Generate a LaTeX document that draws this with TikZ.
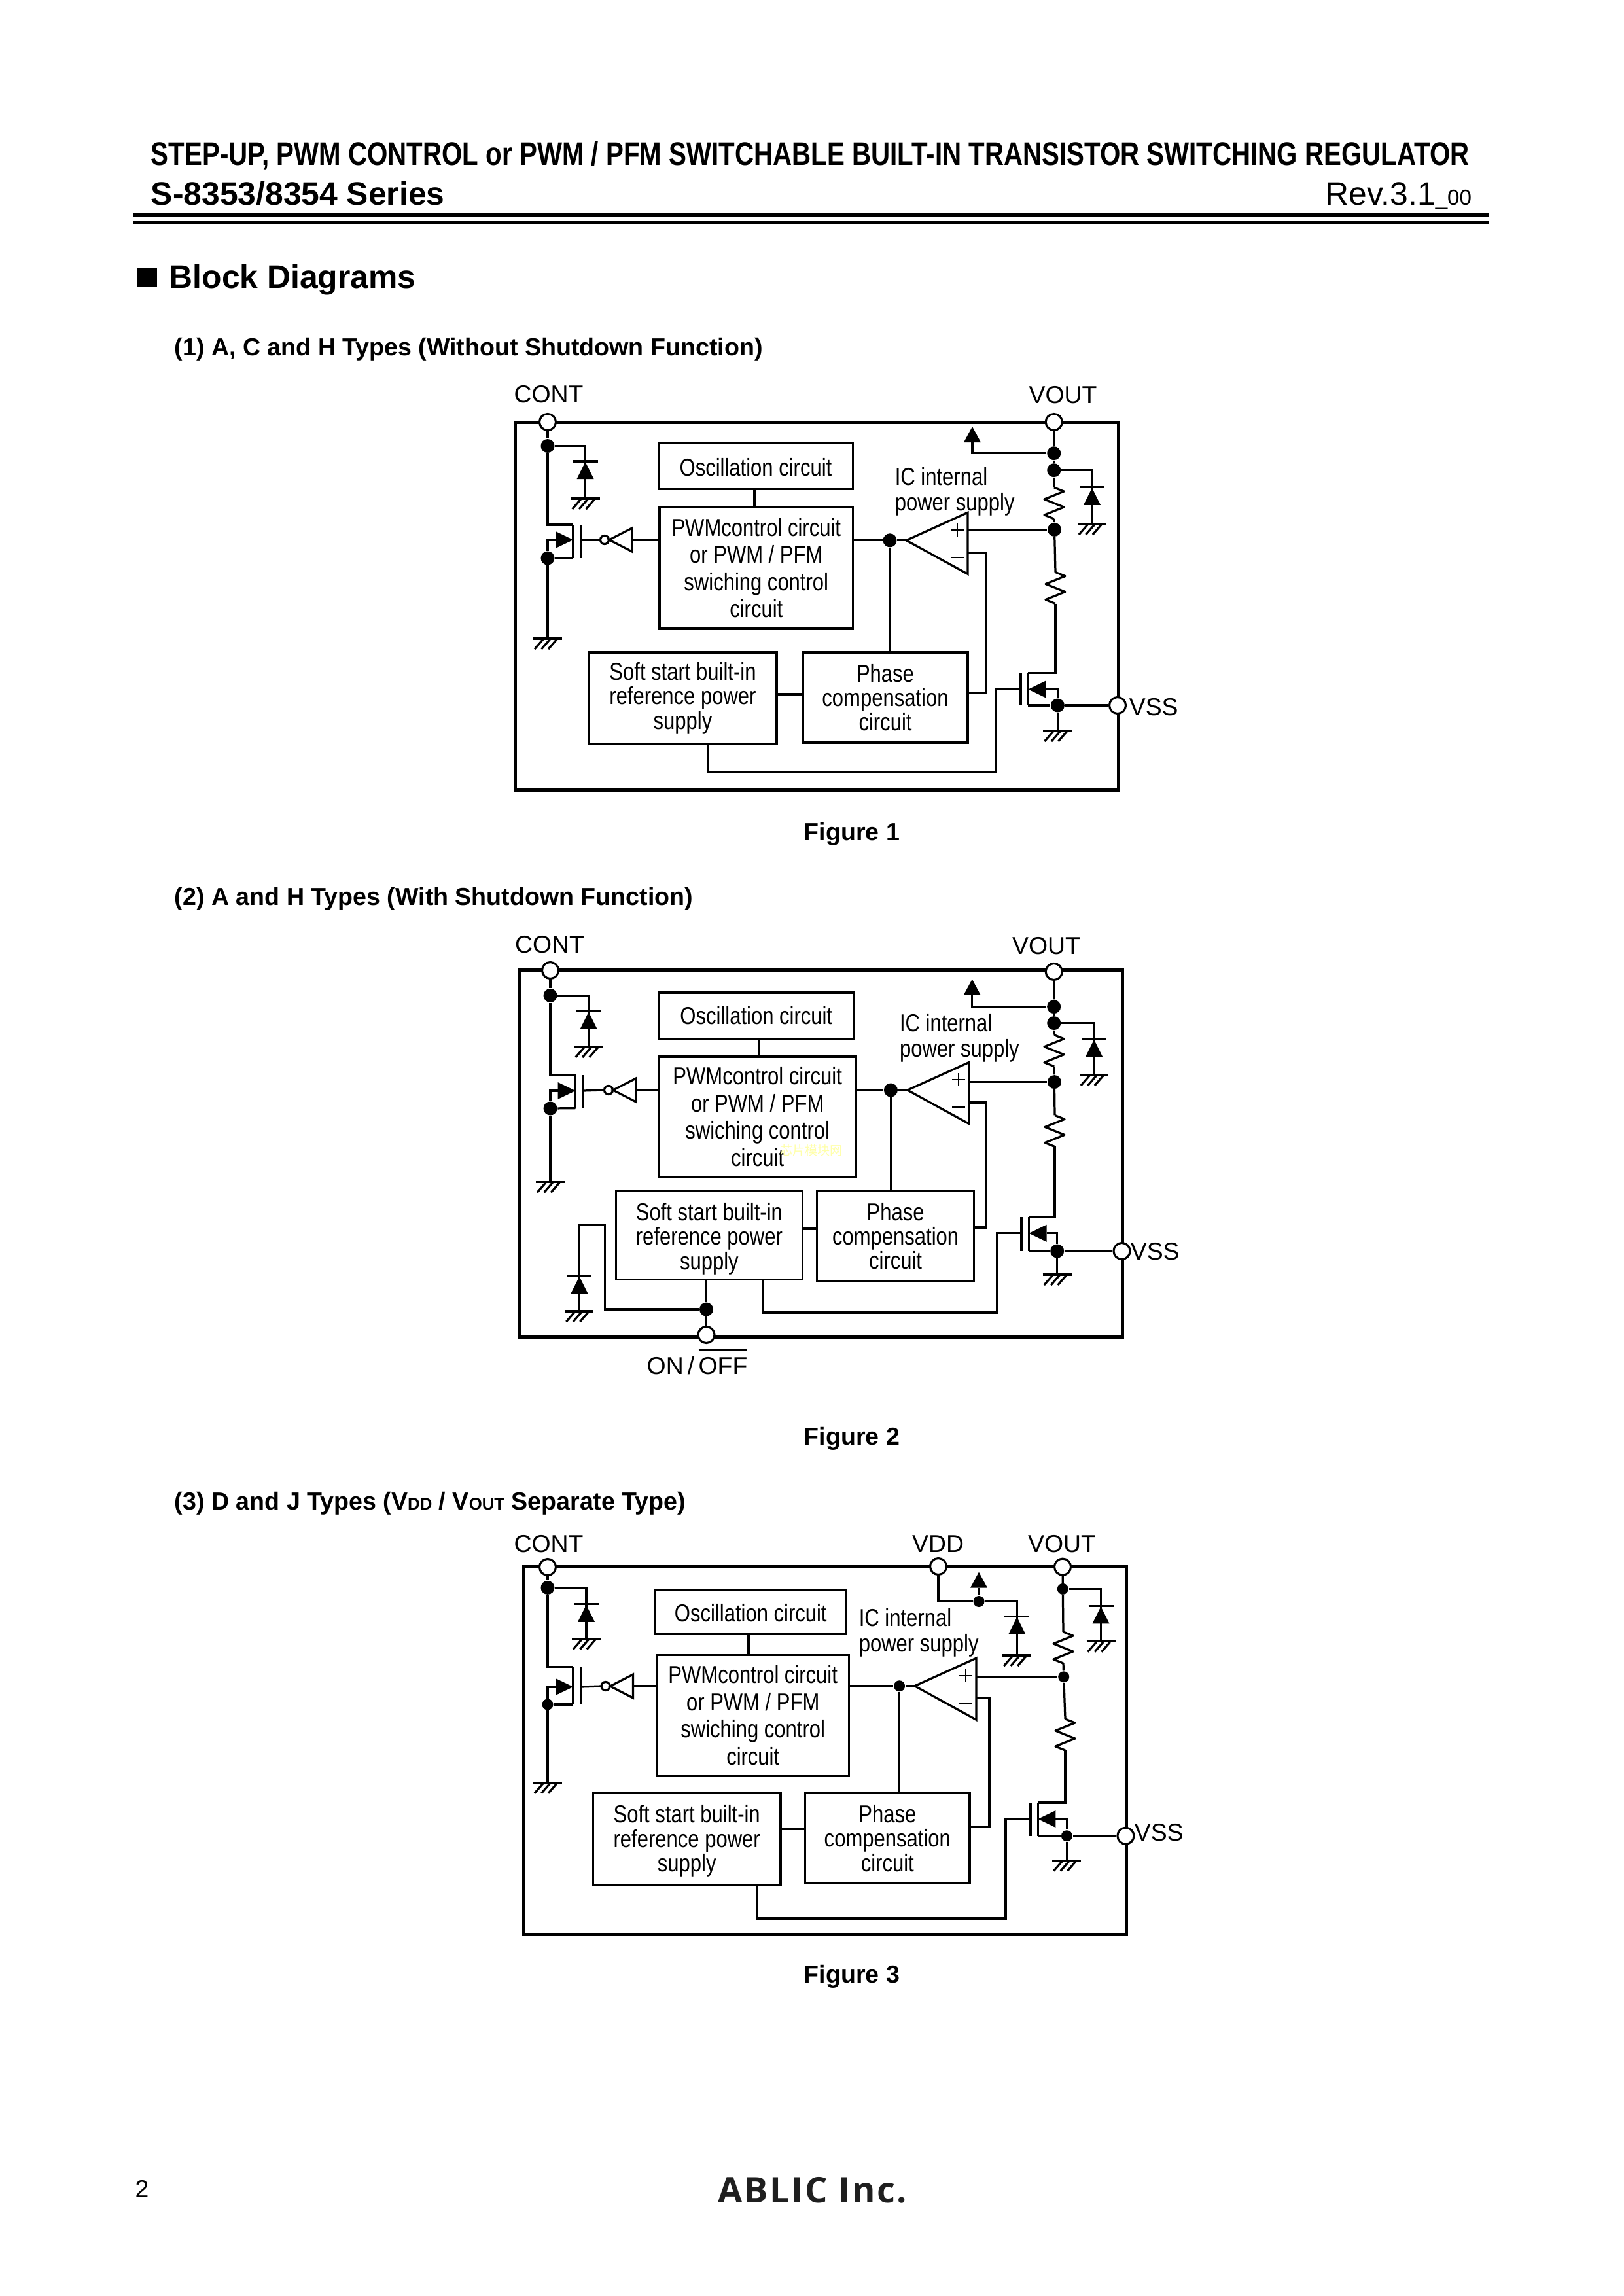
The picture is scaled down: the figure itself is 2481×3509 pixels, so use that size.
\documentclass[tikz,border=0pt]{standalone}
\usepackage{fontspec}
\setmainfont{Liberation Sans}
\newfontfamily\circuitfont[FakeStretch=0.83]{Liberation Sans}
\newfontfamily\titlefont[FakeStretch=0.8085]{Liberation Sans}
\newfontfamily\logofont[LetterSpace=5]{Open Sans}
\newfontfamily\cjkfont{Noto Sans CJK SC}
\usetikzlibrary{calc}
\newcommand{\pxu}{0.084643mm}
\newcommand{\notbar}[1]{\setbox0\hbox{#1}\rlap{\rule[\dimexpr\ht0+2.4pt]{\wd0}{0.5pt}}\box0}
\tikzset{
  wire line/.style={line width=0.78pt},
  frame line/.style={line width=1.2pt,line join=miter},
  sign line/.style={line width=0.45pt},
  box size/.style 2 args={minimum width=#1*\pxu,minimum height=#2*\pxu},
  block node/.style={draw,line width=0.78pt,inner sep=0pt,align=center,
    font=\circuitfont\fontsize{9}{10}\selectfont},
  tight block/.style={block node,font=\circuitfont\fontsize{9}{9}\selectfont},
  port node/.style={draw,circle,fill=white,line width=0.75pt,inner sep=0pt,
    minimum size=25*\pxu},
  dot node/.style={circle,fill=black,inner sep=0pt,minimum size=21*\pxu},
  small dot/.style={dot node,minimum size=17*\pxu},
  pin label/.style={inner sep=0pt,font=\fontsize{9}{10}\selectfont},
  ic label/.style={inner sep=0pt,anchor=west,align=left,
    font=\circuitfont\fontsize{9}{9.4}\selectfont},
  title label/.style={inner sep=0pt,anchor=base west,
    font=\titlefont\bfseries\fontsize{12}{14}\selectfont},
  head label/.style={inner sep=0pt,anchor=base west,
    font=\bfseries\fontsize{12}{14}\selectfont},
  type label/.style={inner sep=0pt,anchor=base west,
    font=\bfseries\fontsize{9.05}{11}\selectfont},
  figure label/.style={inner sep=0pt,anchor=base,
    font=\bfseries\fontsize{9.05}{11}\selectfont},
  pics/earth/.style={code={
    \coordinate (-top) at (0,0);
    \draw[wire line] (-22,0) -- (22,0);
    \foreach \hx in {-7,3.5,14} \draw[wire line] (\hx,1) -- ++(-13,15);
  }},
  pics/diode/.style={code={
    \draw[wire line] (-19,0) -- (19,0);
    \fill (0,1) -- (13,27) -- (-13,27) -- cycle;
  }},
  pics/supply/.style={code={
    \coordinate (-base) at (0,0);
    \fill (0,-24) -- (13,0) -- (-13,0) -- cycle;
  }},
  pics/resistor/.style={code={
    \coordinate (-top) at (0,-24);
    \coordinate (-bot) at (0,24);
    \draw[wire line,line join=round] (0,-24) -- (15,-18) -- (-15,-6) -- (15,6)
      -- (-15,18) -- (0,24);
  }},
  pics/inverter/.style={code={
    \coordinate (-in) at (0,0);
    \coordinate (-out) at (-49,0);
    \draw[wire line] (0,-18) -- (-35,0) -- (0,18) -- cycle;
    \draw[wire line] (-42,0) circle[radius=6.5];
  }},
  pics/comparator/.style={code={
    \coordinate (-out) at (0,0);
    \coordinate (-plus) at (94,-16);
    \coordinate (-minus) at (94,19);
    \draw[wire line] (0,0) -- (94,-42.5) -- (94,51.5) -- cycle;
    \draw[sign line] (68,-16) -- (88,-16) (78,-26) -- (78,-6);
    \draw[sign line] (68,26) -- (88,26);
  }},
  pics/fet/.style 2 args={code={
    \coordinate (-top) at (0,#1);
    \coordinate (-bot) at (0,#2);
    \coordinate (-gate) at (11.5,0);
    \coordinate (-tail) at (-27,0);
    \draw[wire line] (0,#1) -- (0,#2);
    \draw[wire line] (11.5,#1) -- (11.5,#2);
    \fill (0,0) -- (-27,-13) -- (-27,13) -- cycle;
  }},
}
\begin{document}
\begin{tikzpicture}[x=\pxu,y=-\pxu]
  \useasboundingbox (0,0) rectangle (2481,3509);
  \node[title label] (title) at (230,252.5) {STEP-UP, PWM CONTROL or PWM / PFM SWITCHABLE BUILT-IN TRANSISTOR SWITCHING REGULATOR};
  \node[head label] (series) at (230,313) {S-8353/8354 Series};
  \node[inner sep=0pt,anchor=base east,font=\fontsize{12}{14}\selectfont] (rev) at (2250,313) {Rev.3.1{\fontsize{8}{8}\selectfont\_00}};
  \draw[line width=1.65pt] (204,328.3) -- (2275,328.3);
  \draw[line width=1.4pt] (204,340.5) -- (2275,340.5);
  \fill (210,409) rectangle (240,438);
  \node[head label] (blockhead) at (258,440.7) {Block Diagrams};
  \node[type label] (type1) at (266,543) {(1) A, C and H Types (Without Shutdown Function)};
  \node[type label] (type2) at (266,1383) {(2) A and H Types (With Shutdown Function)};
  \node[type label] (type3) at (266,2307) {(3) D and J Types (V{\fontsize{6.2}{6}\selectfont DD} / V{\fontsize{6.2}{6}\selectfont OUT} Separate Type)};
  \node[figure label] (fig1) at (1302,1284) {Figure 1};
  \node[figure label] (fig2) at (1302,2208) {Figure 2};
  \node[figure label] (fig3) at (1302,3030) {Figure 3};
  \node[inner sep=0pt,anchor=base,font=\fontsize{9}{10}\selectfont] (pageno) at (217,3358) {2};
  \node[inner sep=0pt,anchor=base west,text=black!88,font=\logofont\bfseries\fontsize{13}{14}\selectfont] (logo) at (1097,3366) {ABLIC Inc.};

  \draw[frame line] (787,646) rectangle (1709,1207);
  \node[port node] (cont1) at (837,645) {};
  \node[port node] (vout1) at (1610.7,645) {};
  \node[port node] (vss1) at (1708,1078) {};
  \node[pin label] (contlabel1) at (838.6,602.5) {CONT};
  \node[pin label] (voutlabel1) at (1624.6,603.5) {VOUT};
  \node[pin label,anchor=west] (vsslabel1) at (1725,1081) {VSS};
  \node[block node,box size={297}{71}] (osc1) at (1155,712.2) {\rule{0pt}{7.4pt}Oscillation circuit};
  \node[block node,box size={295.6}{186}] (pwm1) at (1155.8,868) {PWMcontrol circuit\\or PWM / PFM\\swiching control\\circuit};
  \node[tight block,box size={287}{140}] (soft1) at (1043.5,1067) {Soft start built-in\\reference power\\supply};
  \node[tight block,box size={252}{138}] (phase1) at (1353,1066) {Phase\\compensation\\circuit};
  \node[ic label] (ic1) at (1367,751.5) {IC internal\\power supply};
  \node[dot node] (j1a) at (837,681.5) {};
  \node[dot node] (j1b) at (837,853) {};
  \node[dot node] (j1c) at (1360,825.8) {};
  \node[dot node] (j1d) at (1610.7,692.7) {};
  \node[dot node] (j1e) at (1610.7,718.7) {};
  \node[dot node] (j1f) at (1611.5,809.4) {};
  \node[dot node] (j1g) at (1616.4,1078) {};
  \pic (dio1a) at (894.6,705) {diode};
  \pic (gnd1a) at (894.6,762) {earth};
  \pic (gnd1b) at (837,976) {earth};
  \pic (fet1a) at (876,825) {fet={-23}{28}};
  \pic (inv1) at (966,825) {inverter};
  \pic (amp1) at (1385,825.8) {comparator};
  \pic (sup1) at (1486,676) {supply};
  \pic (res1a) at (1611,769) {resistor};
  \pic (res1b) at (1613,898.5) {resistor};
  \pic (dio1b) at (1669,744.8) {diode};
  \pic (gnd1d) at (1669,801) {earth};
  \pic[xscale=-1] (fet1b) at (1571.4,1053.5) {fet={-25}{24.5}};
  \pic (gnd1c) at (1616.4,1117) {earth};
  \coordinate (tap1) at (1153,748);
  \coordinate (link1) at (1200,1061);
  \coordinate (fb1) at (1507.5,1059);
  \coordinate (bus1) at (1081.4,1180);
  \coordinate (turn1) at (1522,1180);
  \draw[wire line] (cont1) -- (j1a);
  \draw[wire line] (j1a) -| (gnd1a-top);
  \draw[wire line] (j1a) |- (fet1a-top);
  \draw[wire line] (fet1a-bot) -- (j1b);
  \draw[wire line] (j1b) |- (fet1a-tail);
  \draw[wire line] (j1b) -- (gnd1b-top);
  \draw[wire line] (fet1a-gate) -- (inv1-out);
  \draw[wire line] (inv1-in) -- (inv1-in -| pwm1.west);
  \draw[wire line] (tap1) -- (tap1 |- pwm1.north);
  \draw[wire line] (j1c -| pwm1.east) -- (j1c);
  \draw[wire line] (j1c) -- (amp1-out);
  \draw[wire line] (j1c) -- (j1c |- phase1.north);
  \draw[wire line] (link1 -| soft1.east) -- (link1 -| phase1.west);
  \draw[wire line] (j1f -| amp1-plus) -- (j1f);
  \draw[wire line] (amp1-minus) -| (fb1) -- (fb1 -| phase1.east);
  \draw[wire line] (vout1) -- (j1d) -- (j1e) -- (res1a-top);
  \draw[wire line] (j1d) -| (sup1-base);
  \draw[wire line] (j1e) -| (gnd1d-top);
  \draw[wire line] (res1a-bot) -- (j1f);
  \draw[wire line] (j1f) -- (res1b-top);
  \draw[wire line] (res1b-bot) |- (fet1b-top);
  \draw[wire line] (fet1b-tail) -| (j1g);
  \draw[wire line] (fet1b-bot) -- (j1g);
  \draw[wire line] (j1g) -- (vss1);
  \draw[wire line] (j1g) -- (gnd1c-top);
  \draw[wire line] (bus1 |- soft1.south) -- (bus1) -- (turn1) |- (fet1b-gate);

  \draw[frame line] (793,1482.5) rectangle (1715,2043);
  \node[port node] (cont2) at (841,1483) {};
  \node[port node] (vout2) at (1610.7,1485) {};
  \node[port node] (vss2) at (1714.5,1912) {};
  \node[port node] (onoff2) at (1079.5,2040) {};
  \node[pin label] (contlabel2) at (840,1444) {CONT};
  \node[pin label] (voutlabel2) at (1599,1445.5) {VOUT};
  \node[pin label,anchor=west] (vsslabel2) at (1727,1913) {VSS};
  \node[pin label,anchor=base] (onofflabel2) at (1065.5,2100) {ON\hspace{1.5pt}/\hspace{1.5pt}\notbar{OFF}};
  \node[block node,box size={297.6}{71}] (osc2) at (1155.8,1552.5) {Oscillation circuit};
  \node[block node,box size={300.5}{183.6}] (pwm2) at (1157.7,1706.8) {PWMcontrol circuit\\or PWM / PFM\\swiching control\\circuit};
  \node[inner sep=0pt,text={rgb,255:red,255;green,255;blue,170},font=\cjkfont\fontsize{4.6}{5}\selectfont] (mark2) at (1240,1758) {芯片模块网};
  \node[tight block,box size={285}{135.7}] (soft2) at (1083.9,1887.8) {\rule{0pt}{9pt}Soft start built-in\\reference power\\supply};
  \node[tight block,box size={240}{138.3}] (phase2) at (1368.6,1889) {Phase\\compensation\\circuit};
  \node[ic label] (ic2) at (1374.2,1586.7) {IC internal\\power supply};
  \node[dot node] (j2a) at (841,1521.4) {};
  \node[dot node] (j2b) at (841,1694) {};
  \node[dot node] (j2c) at (1361.4,1666) {};
  \node[dot node] (j2d) at (1610.7,1538.6) {};
  \node[dot node] (j2e) at (1610.7,1563.6) {};
  \node[dot node] (j2f) at (1611.4,1653.6) {};
  \node[dot node] (j2g) at (1615.7,1912) {};
  \node[dot node] (j2h) at (1079.5,2001) {};
  \pic (dio2a) at (899.6,1545.7) {diode};
  \pic (gnd2a) at (899.6,1600) {earth};
  \pic (gnd2b) at (841,1806.4) {earth};
  \pic (fet2a) at (879.5,1667) {fet={-24}{26.6}};
  \pic (inv2) at (972,1666) {inverter};
  \pic (amp2) at (1387,1666) {comparator};
  \pic (sup2) at (1485.7,1520.7) {supply};
  \pic (res2a) at (1611,1605.7) {resistor};
  \pic (res2b) at (1612,1728.4) {resistor};
  \pic (dio2b) at (1672,1588) {diode};
  \pic (gnd2d) at (1672,1643) {earth};
  \pic[xscale=-1] (fet2b) at (1572.5,1884.8) {fet={-24.6}{27.2}};
  \pic (gnd2c) at (1615.7,1948) {earth};
  \pic (dio2e) at (885.4,1950) {diode};
  \pic (gnd2e) at (885.4,2004) {earth};
  \coordinate (tap2) at (1159.3,1588);
  \coordinate (link2) at (1235,1878);
  \coordinate (fb2) at (1507,1876);
  \coordinate (bus2) at (1166.4,2006);
  \coordinate (turn2) at (1524,2006);
  \coordinate (loop2) at (924.3,1872.3);
  \draw[wire line] (cont2) -- (j2a);
  \draw[wire line] (j2a) -| (gnd2a-top);
  \draw[wire line] (j2a) |- (fet2a-top);
  \draw[wire line] (fet2a-bot) -- (j2b);
  \draw[wire line] (j2b) |- (fet2a-tail);
  \draw[wire line] (j2b) -- (gnd2b-top);
  \draw[wire line] (fet2a-gate) -- (inv2-out);
  \draw[wire line] (inv2-in) -- (inv2-in -| pwm2.west);
  \draw[wire line] (tap2) -- (tap2 |- pwm2.north);
  \draw[wire line] (j2c -| pwm2.east) -- (j2c);
  \draw[wire line] (j2c) -- (amp2-out);
  \draw[wire line] (j2c) -- (j2c |- phase2.north);
  \draw[wire line] (link2 -| soft2.east) -- (link2 -| phase2.west);
  \draw[wire line] (j2f -| amp2-plus) -- (j2f);
  \draw[wire line] (amp2-minus) -| (fb2) -- (fb2 -| phase2.east);
  \draw[wire line] (vout2) -- (j2d) -- (j2e) -- (res2a-top);
  \draw[wire line] (j2d) -| (sup2-base);
  \draw[wire line] (j2e) -| (gnd2d-top);
  \draw[wire line] (res2a-bot) -- (j2f);
  \draw[wire line] (j2f) -- (res2b-top);
  \draw[wire line] (res2b-bot) |- (fet2b-top);
  \draw[wire line] (fet2b-tail) -| (j2g);
  \draw[wire line] (fet2b-bot) -- (j2g);
  \draw[wire line] (j2g) -- (vss2);
  \draw[wire line] (j2g) -- (gnd2c-top);
  \draw[wire line] (bus2 |- soft2.south) -- (bus2) -- (turn2) |- (fet2b-gate);
  \draw[wire line] (j2h |- soft2.south) -- (j2h);
  \draw[wire line] (j2h) -- (onoff2);
  \draw[wire line] (j2h) -| (loop2) -| (gnd2e-top);

  \draw[frame line] (800,2394.3) rectangle (1721,2956.7);
  \node[port node] (cont3) at (837,2395) {};
  \node[port node] (vdd3) at (1434,2394) {};
  \node[port node] (vout3) at (1624,2394.6) {};
  \node[port node] (vss3) at (1720.4,2805.7) {};
  \node[pin label] (contlabel3) at (838.6,2360) {CONT};
  \node[pin label] (vddlabel3) at (1433.6,2360) {VDD};
  \node[pin label] (voutlabel3) at (1623,2360) {VOUT};
  \node[pin label,anchor=west] (vsslabel3) at (1733,2801) {VSS};
  \node[block node,box size={292.6}{67.8}] (osc3) at (1147.3,2463) {\rule{0pt}{7.4pt}Oscillation circuit};
  \node[block node,box size={293.5}{184.4}] (pwm3) at (1150.75,2621.8) {PWMcontrol circuit\\or PWM / PFM\\swiching control\\circuit};
  \node[tight block,box size={286.6}{140.3}] (soft3) at (1049.7,2810.8) {\rule{0pt}{7.8pt}Soft start built-in\\reference power\\supply};
  \node[tight block,box size={251.3}{138}] (phase3) at (1356.3,2809.5) {Phase\\compensation\\circuit};
  \node[ic label] (ic3) at (1312,2495.3) {IC internal\\power supply};
  \node[dot node] (j3a) at (837,2426.4) {};
  \node[small dot] (j3b) at (837,2605) {};
  \node[small dot] (j3c) at (1374.6,2576.7) {};
  \node[small dot] (j3d) at (1496,2447.5) {};
  \node[small dot] (j3e) at (1624.3,2428.4) {};
  \node[small dot] (j3f) at (1625.7,2562.8) {};
  \node[small dot] (j3g) at (1630.4,2805.7) {};
  \pic (dio3a) at (896,2451.8) {diode};
  \pic (gnd3a) at (896,2504.6) {earth};
  \pic (gnd3b) at (837,2724.6) {earth};
  \pic (fet3a) at (876,2578) {fet={-30.5}{27}};
  \pic (inv3) at (967.5,2577) {inverter};
  \pic (amp3) at (1397.9,2576.7) {comparator};
  \pic (sup3) at (1496,2426.7) {supply};
  \pic (dio3c) at (1554.3,2470.5) {diode};
  \pic (gnd3c) at (1554.3,2530) {earth};
  \pic (res3a) at (1625,2518) {resistor};
  \pic (res3b) at (1628,2651) {resistor};
  \pic (dio3b) at (1682.5,2454.4) {diode};
  \pic (gnd3d) at (1682.5,2508.6) {earth};
  \pic[xscale=-1] (fet3b) at (1586.4,2780) {fet={-25}{25.7}};
  \pic (gnd3e) at (1630.4,2843.4) {earth};
  \coordinate (tap3) at (1144,2497);
  \coordinate (link3) at (1210,2795.3);
  \coordinate (fb3) at (1512,2792.7);
  \coordinate (bus3) at (1156.4,2932);
  \coordinate (turn3) at (1537,2932);
  \draw[wire line] (cont3) -- (j3a);
  \draw[wire line] (j3a) -| (gnd3a-top);
  \draw[wire line] (j3a) |- (fet3a-top);
  \draw[wire line] (fet3a-bot) -- (j3b);
  \draw[wire line] (j3b) |- (fet3a-tail);
  \draw[wire line] (j3b) -- (gnd3b-top);
  \draw[wire line] (fet3a-gate) -- (inv3-out);
  \draw[wire line] (inv3-in) -- (inv3-in -| pwm3.west);
  \draw[wire line] (tap3) -- (tap3 |- pwm3.north);
  \draw[wire line] (j3c -| pwm3.east) -- (j3c);
  \draw[wire line] (j3c) -- (amp3-out);
  \draw[wire line] (j3c) -- (j3c |- phase3.north);
  \draw[wire line] (link3 -| soft3.east) -- (link3 -| phase3.west);
  \draw[wire line] (j3f -| amp3-plus) -- (j3f);
  \draw[wire line] (amp3-minus) -| (fb3) -- (fb3 -| phase3.east);
  \draw[wire line] (vdd3) |- (j3d);
  \draw[wire line] (j3d) -- (sup3-base);
  \draw[wire line] (j3d) -| (gnd3c-top);
  \draw[wire line] (vout3) -- (j3e) -- (res3a-top);
  \draw[wire line] (j3e) -| (gnd3d-top);
  \draw[wire line] (res3a-bot) -- (j3f);
  \draw[wire line] (j3f) -- (res3b-top);
  \draw[wire line] (res3b-bot) |- (fet3b-top);
  \draw[wire line] (fet3b-tail) -| (j3g);
  \draw[wire line] (fet3b-bot) -- (j3g);
  \draw[wire line] (j3g) -- (vss3);
  \draw[wire line] (j3g) -- (gnd3e-top);
  \draw[wire line] (bus3 |- soft3.south) -- (bus3) -- (turn3) |- (fet3b-gate);
\end{tikzpicture}
\end{document}
